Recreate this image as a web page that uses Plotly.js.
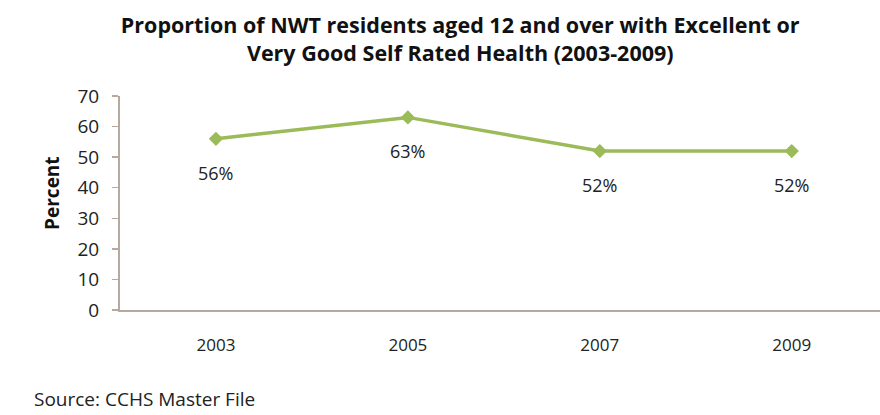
<!DOCTYPE html>
<html>
<head>
<meta charset="utf-8">
<script src="https://cdn.plot.ly/plotly-3.0.1.min.js"></script>
<style>html,body{margin:0;padding:0;background:#fff;}#chart{width:880px;height:415px;}</style>
</head>
<body>
<div id="chart"></div>
<script>
var years = ['2003', '2005', '2007', '2009'];
var percent = [56, 63, 52, 52];
var labels = ['56%', '63%', '52%', '52%'];
var yTicks = [0, 10, 20, 30, 40, 50, 60, 70];

var font = '"Open Sans", Lato, "DejaVu Sans", sans-serif';

var trace = {
  x: years,
  y: percent,
  type: 'scatter',
  mode: 'lines+markers',
  line: {color: '#9bbb59', width: 3.5},
  marker: {symbol: 'diamond', size: 11, color: '#9bbb59'},
  hoverinfo: 'skip',
  cliponaxis: false
};

var annotations = years.map(function (yr, i) {
  return {
    x: i, y: percent[i], xref: 'x', yref: 'y',
    text: labels[i], showarrow: false, yshift: -34,
    font: {family: font, size: 18, color: '#222'}
  };
});
annotations.push({
  xref: 'paper', yref: 'paper', x: -0.116, y: -0.415, xanchor: 'left', yanchor: 'middle',
  text: 'Source: CCHS Master File', showarrow: false,
  font: {family: font, size: 19, color: '#222'}
});
annotations.push({
  xref: 'paper', yref: 'paper', x: -0.0895, y: 0.547, xanchor: 'center', yanchor: 'middle',
  text: '<b>Percent</b>', textangle: -90, showarrow: false,
  font: {family: font, size: 19, color: '#111'}
});

var layout = {
  width: 880, height: 415,
  margin: {l: 120, r: 0, t: 96, b: 105},
  paper_bgcolor: '#fff', plot_bgcolor: '#fff',
  showlegend: false,
  title: {
    text: '<b>Proportion of NWT residents aged 12 and over with Excellent or<br>Very Good Self Rated Health (2003-2009)</b>',
    font: {family: font, size: 21.5, color: '#111'},
    x: 0.523, xanchor: 'center', y: 0.92, yanchor: 'middle'
  },
  xaxis: {
    type: 'category',
    range: [-0.5, 3.46],
    showline: true, linecolor: '#b8a8a0', linewidth: 2,
    showgrid: false, zeroline: false,
    ticks: '', tickfont: {family: font, size: 17, color: '#222'},
    ticklabelstandoff: 19
  },
  yaxis: {
    range: [0, 70],
    tickvals: yTicks,
    showline: true, linecolor: '#b8a8a0', linewidth: 2,
    ticks: 'outside', ticklen: 6, tickcolor: '#b8a8a0', tickwidth: 1.5,
    showgrid: false, zeroline: false,
    tickfont: {family: font, size: 19, color: '#222'},
    ticklabelstandoff: 9
  },
  annotations: annotations
};

Plotly.newPlot('chart', [trace], layout, {displayModeBar: false, staticPlot: true});
</script>
</body>
</html>
